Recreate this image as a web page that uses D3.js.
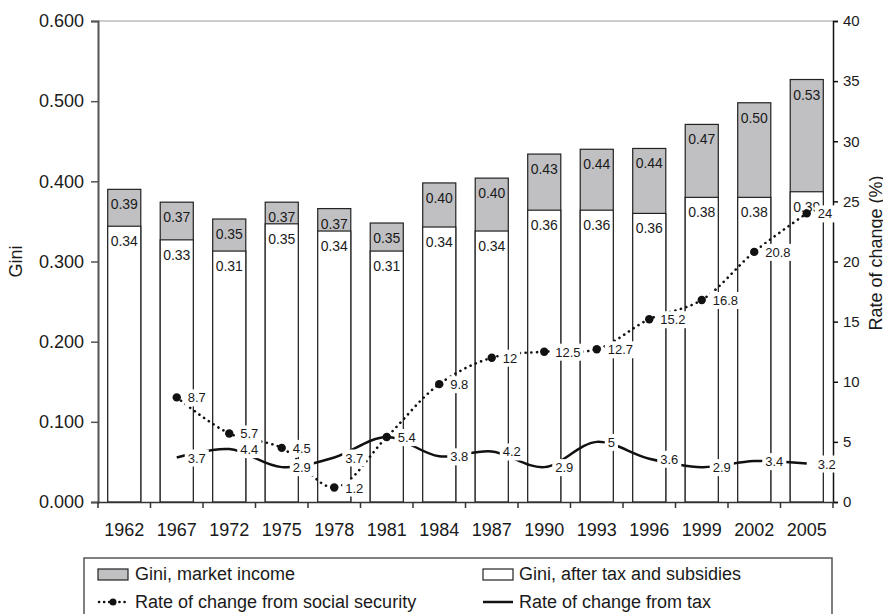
<!DOCTYPE html>
<html>
<head>
<meta charset="utf-8">
<title>Gini and rate of change</title>
<script src="https://cdn.jsdelivr.net/npm/d3@7"></script>
<style>
body { margin: 0; background: #fff; }
text { font-family: 'Liberation Sans', Arial, sans-serif; fill: #1a1a1a; }
.barLabel { font-size: 14px; }
.lineLabel { font-size: 13px; }
.legend text { font-size: 18px; }
</style>
</head>
<body>
<svg id="chart" width="883" height="614"></svg>
<script>

var years = ['1962', '1967', '1972', '1975', '1978', '1981', '1984', '1987', '1990', '1993', '1996', '1999', '2002', '2005'];
var giniMarket = [0.390, 0.374, 0.353, 0.374, 0.366, 0.348, 0.398, 0.404, 0.434, 0.440, 0.441, 0.471, 0.498, 0.527];
var giniAfter = [0.344, 0.327, 0.313, 0.347, 0.338, 0.313, 0.343, 0.338, 0.364, 0.364, 0.360, 0.380, 0.380, 0.387];
var socialSecurity = [null, 8.7, 5.7, 4.5, 1.2, 5.4, 9.8, 12, 12.5, 12.7, 15.2, 16.8, 20.8, 24];
var taxChange = [null, 3.7, 4.4, 2.9, 3.7, 5.4, 3.8, 4.2, 2.9, 5, 3.6, 2.9, 3.4, 3.2];
var giniTicks = [0, 0.1, 0.2, 0.3, 0.4, 0.5, 0.6];
var rateTicks = [0, 5, 10, 15, 20, 25, 30, 35, 40];

var svg = d3.select('#chart');
var plotLeft = 98, plotRight = 833, plotTop = 21, plotBottom = 502;

var x = d3.scaleBand().domain(years).range([plotLeft, plotRight]).paddingInner(0.37).paddingOuter(0.185);
var y = d3.scaleLinear().domain([0, 0.6]).range([plotBottom, plotTop]);
var y2 = d3.scaleLinear().domain([0, 40]).range([plotBottom, plotTop]);
var cx = function(i) { return x(years[i]) + x.bandwidth() / 2; };

// top grid line
svg.append('line')
	.attr('x1', plotLeft).attr('x2', plotRight)
	.attr('y1', y(0.6)).attr('y2', y(0.6))
	.attr('stroke', '#bdbdbd').attr('stroke-width', 1.5);

// bars: market income behind, after tax in front
[[giniMarket, '#c0c0c3'], [giniAfter, '#fff']].forEach(function(s) {
	svg.selectAll(null)
		.data(s[0])
		.enter()
		.append('rect')
		.attr('x', function(d, i) { return x(years[i]); })
		.attr('y', function(d) { return y(d); })
		.attr('width', x.bandwidth())
		.attr('height', function(d) { return y(0) - y(d); })
		.attr('fill', s[1])
		.attr('stroke', '#222')
		.attr('stroke-width', 1.2);
});

var fmt = d3.format('.2f');
[giniMarket, giniAfter].forEach(function(series) {
	svg.selectAll(null)
		.data(series)
		.enter()
		.append('text')
		.attr('class', 'barLabel')
		.attr('x', function(d, i) { return cx(i); })
		.attr('y', function(d) { return y(d) + 20; })
		.attr('text-anchor', 'middle')
		.text(function(d) { return fmt(d); });
});

// axes
var gL = svg.append('g')
	.attr('transform', 'translate(' + plotLeft + ',0)')
	.call(d3.axisLeft(y).tickValues(giniTicks).tickFormat(d3.format('.3f')).tickSize(7).tickPadding(7));
gL.select('.domain').attr('stroke', '#555').attr('stroke-width', 2);
gL.selectAll('.tick line').attr('stroke', '#555').attr('stroke-width', 1.5);
gL.selectAll('text').style('font-size', '18px').attr('fill', '#1a1a1a');

var gR = svg.append('g')
	.attr('transform', 'translate(' + plotRight + ',0)')
	.call(d3.axisRight(y2).tickValues(rateTicks).tickSize(5).tickPadding(5));
gR.select('.domain').attr('stroke', '#111').attr('stroke-width', 1.5);
gR.selectAll('.tick line').attr('stroke', '#111').attr('stroke-width', 1.5);
gR.selectAll('text').style('font-size', '15px').attr('fill', '#1a1a1a');

var gB = svg.append('g')
	.attr('transform', 'translate(0,' + plotBottom + ')')
	.call(d3.axisBottom(x).tickSize(0).tickPadding(21));
gB.select('.domain').attr('stroke', '#333').attr('stroke-width', 1.5);
gB.selectAll('text').style('font-size', '18px').attr('fill', '#1a1a1a');
gB.selectAll('.bound')
	.data(d3.range(years.length + 1))
	.enter()
	.append('line')
	.attr('x1', function(i) { return plotLeft + i * x.step(); })
	.attr('x2', function(i) { return plotLeft + i * x.step(); })
	.attr('y1', 0).attr('y2', 6)
	.attr('stroke', '#333').attr('stroke-width', 1.5);

svg.append('text')
	.attr('transform', 'translate(22,' + (plotTop + plotBottom) / 2 + ') rotate(-90)')
	.attr('text-anchor', 'middle')
	.style('font-size', '18px')
	.text('Gini');

svg.append('text')
	.attr('transform', 'translate(882,253) rotate(-90)')
	.attr('text-anchor', 'middle')
	.style('font-size', '18px')
	.text('Rate of change (%)');

// lines
var line = d3.line()
	.defined(function(d) { return d != null; })
	.x(function(d, i) { return cx(i); })
	.y(function(d) { return y2(d); })
	.curve(d3.curveCatmullRom.alpha(0.5));

svg.append('path')
	.datum(taxChange)
	.attr('d', line)
	.attr('fill', 'none')
	.attr('stroke', '#111')
	.attr('stroke-width', 2.5);

svg.append('path')
	.datum(socialSecurity)
	.attr('d', line)
	.attr('fill', 'none')
	.attr('stroke', '#111')
	.attr('stroke-width', 2.6)
	.attr('stroke-linecap', 'round')
	.attr('stroke-dasharray', '0.1,5.6');

socialSecurity.forEach(function(d, i) {
	if (d == null) return;
	svg.append('circle')
		.attr('cx', cx(i))
		.attr('cy', y2(d))
		.attr('r', 4.2)
		.attr('fill', '#111');
});

[taxChange, socialSecurity].forEach(function(series) {
	series.forEach(function(d, i) {
		if (d == null) return;
		var g = svg.append('g');
		var rect = g.append('rect').attr('fill', '#fff');
		var t = g.append('text')
			.attr('class', 'lineLabel')
			.attr('x', cx(i) + 11)
			.attr('y', y2(d) + 5)
			.text(d);
		var w = t.node().getComputedTextLength();
		rect.attr('x', cx(i) + 8).attr('y', y2(d) - 8)
			.attr('width', w + 6).attr('height', 17);
	});
});

// legend
var lg = svg.append('g').attr('class', 'legend');
lg.append('rect')
	.attr('x', 84).attr('y', 558)
	.attr('width', 748).attr('height', 80)
	.attr('fill', 'none').attr('stroke', '#555').attr('stroke-width', 1.5);

lg.append('rect').attr('x', 98).attr('y', 569).attr('width', 30).attr('height', 11)
	.attr('fill', '#c0c0c3').attr('stroke', '#222').attr('stroke-width', 1.2);
lg.append('text').attr('x', 135).attr('y', 580).text('Gini, market income');

lg.append('rect').attr('x', 483).attr('y', 569).attr('width', 30).attr('height', 11)
	.attr('fill', '#fff').attr('stroke', '#222').attr('stroke-width', 1.2);
lg.append('text').attr('x', 519).attr('y', 580).text('Gini, after tax and subsidies');

lg.append('line').attr('x1', 99).attr('x2', 128).attr('y1', 602).attr('y2', 602)
	.attr('stroke', '#111').attr('stroke-width', 2.6)
	.attr('stroke-linecap', 'round').attr('stroke-dasharray', '0.1,5');
lg.append('circle').attr('cx', 113).attr('cy', 602).attr('r', 3.5).attr('fill', '#111');
lg.append('text').attr('x', 135).attr('y', 608).text('Rate of change from social security');

lg.append('line').attr('x1', 483).attr('x2', 513).attr('y1', 602).attr('y2', 602)
	.attr('stroke', '#111').attr('stroke-width', 2.5);
lg.append('text').attr('x', 519).attr('y', 608).text('Rate of change from tax');

</script>
</body>
</html>
